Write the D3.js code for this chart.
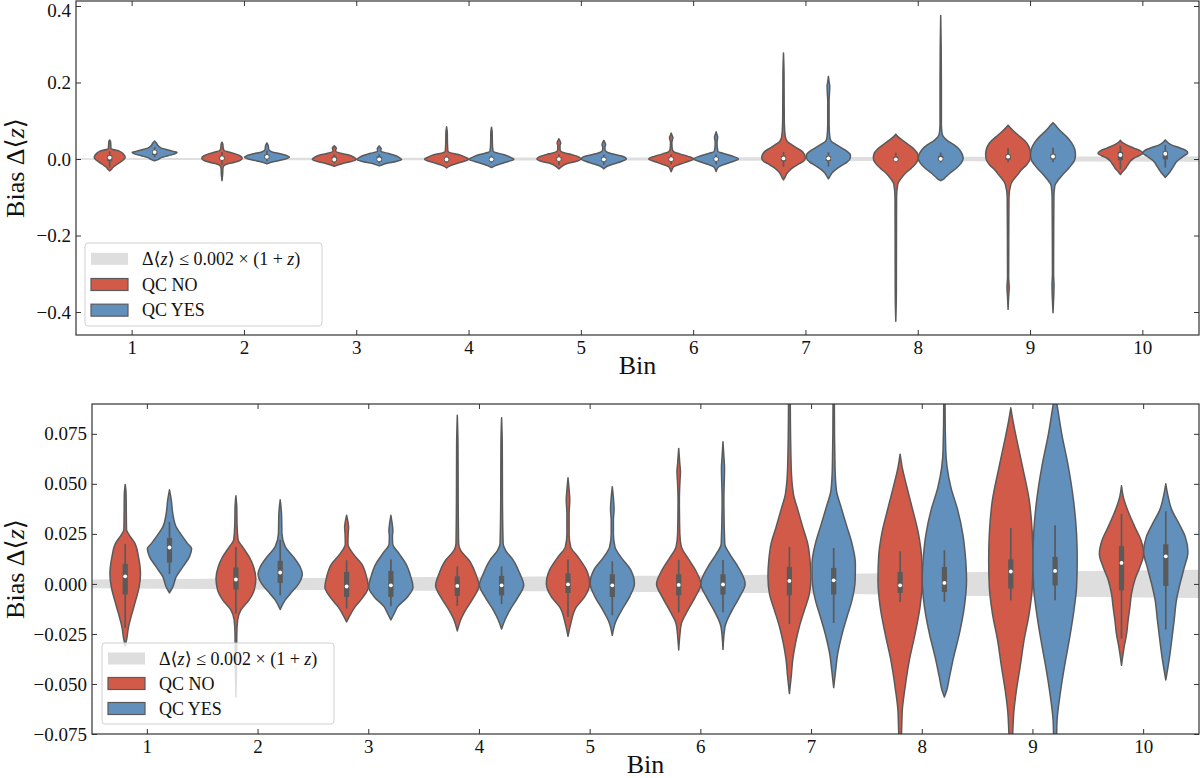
<!DOCTYPE html>
<html>
<head>
<meta charset="utf-8">
<script src="https://cdn.jsdelivr.net/npm/d3@7"></script>
<style>
  body { margin: 0; background: #fff; }
  svg { display: block; }
  text { font-family: "Liberation Serif", "DejaVu Serif", serif; fill: #111; }
  .tick text { font-size: 19px; }
</style>
</head>
<body>
<svg id="chart" width="1200" height="778"></svg>
<script>
/* Violin plots of photo-z bias per tomographic bin, with / without QC */

var binLabels = ["1", "2", "3", "4", "5", "6", "7", "8", "9", "10"];
var hueLabels = ["QC NO", "QC YES"];
var hueColors = ["#d25a48", "#6190bd"];

// half width of the requirement band, read at the bin edges (0 .. 10)
var bandHalf = [0.0022, 0.0026, 0.0030, 0.0034, 0.0037, 0.0041, 0.0045, 0.0052, 0.0060, 0.0065, 0.0071];

// inner box: quartiles, median, whiskers
var q1No      = [-0.0053, -0.0028, -0.0065, -0.0060, -0.0045, -0.0057, -0.0057, -0.0045, -0.0023, -0.0032];
var medNo     = [ 0.0038,  0.0022, -0.0013, -0.0010, -0.0002, -0.0005,  0.0015, -0.0007,  0.0062,  0.0105];
var q3No      = [ 0.0100,  0.0082,  0.0060,  0.0038,  0.0052,  0.0048,  0.0085,  0.0060,  0.0123,  0.0188];
var whiskLoNo = [-0.0220, -0.0148, -0.0123, -0.0110, -0.0165, -0.0142, -0.0200, -0.0090, -0.0082, -0.0273];
var whiskHiNo = [ 0.0200,  0.0185,  0.0118,  0.0088,  0.0122,  0.0120,  0.0185,  0.0163,  0.0280,  0.0350];

var q1Yes      = [ 0.0107,  0.0005, -0.0065, -0.0057, -0.0065, -0.0053, -0.0053, -0.0040, -0.0008, -0.0010];
var medYes     = [ 0.0182,  0.0057, -0.0007, -0.0007, -0.0007, -0.0003,  0.0018,  0.0005,  0.0065,  0.0138];
var q3Yes      = [ 0.0230,  0.0115,  0.0065,  0.0040,  0.0048,  0.0048,  0.0080,  0.0085,  0.0135,  0.0198];
var whiskLoYes = [ 0.0050, -0.0057, -0.0112, -0.0100, -0.0157, -0.0142, -0.0195, -0.0090, -0.0082, -0.0228];
var whiskHiYes = [ 0.0310,  0.0220,  0.0122,  0.0088,  0.0113,  0.0120,  0.0180,  0.0168,  0.0293,  0.0363];

// violin outlines: [bias, relative half width]
var shapeNo = [
	[[-0.031,0],[-0.028,0.06],[-0.0215,0.15],[-0.015,0.30],[-0.008,0.48],[-0.0015,0.63],[0.005,0.69],[0.0135,0.60],[0.020,0.45],[0.025,0.15],[0.027,0.06],[0.035,0.05],[0.045,0.04],[0.0497,0]],
	[[-0.0565,0],[-0.040,0.03],[-0.025,0.04],[-0.018,0.08],[-0.013,0.23],[-0.008,0.60],[-0.003,0.83],[0.0027,0.90],[0.0085,0.80],[0.0135,0.60],[0.0185,0.30],[0.022,0.10],[0.030,0.05],[0.038,0.04],[0.044,0]],
	[[-0.019,0],[-0.0157,0.15],[-0.0115,0.38],[-0.0065,0.75],[-0.0015,0.98],[0.0035,0.90],[0.010,0.68],[0.015,0.30],[0.020,0.06],[0.025,0.07],[0.0285,0.09],[0.031,0.06],[0.0343,0]],
	[[-0.0235,0],[-0.018,0.15],[-0.013,0.38],[-0.0065,0.75],[-0.0008,0.98],[0.005,0.83],[0.0118,0.53],[0.0168,0.15],[0.020,0.06],[0.040,0.04],[0.070,0.03],[0.0843,0]],
	[[-0.0262,0],[-0.020,0.12],[-0.0115,0.38],[-0.0065,0.75],[0.0002,0.98],[0.007,0.83],[0.0135,0.45],[0.0185,0.12],[0.025,0.05],[0.035,0.05],[0.042,0.08],[0.047,0.05],[0.053,0]],
	[[-0.033,0],[-0.0248,0.06],[-0.0198,0.12],[-0.013,0.42],[-0.0065,0.75],[0.0,1.0],[0.007,0.75],[0.0135,0.38],[0.0185,0.12],[0.025,0.05],[0.042,0.03],[0.052,0.06],[0.056,0.08],[0.060,0.05],[0.0677,0]],
	[[-0.0548,0],[-0.0465,0.08],[-0.038,0.15],[-0.030,0.27],[-0.0213,0.45],[-0.013,0.68],[-0.005,0.90],[0.0035,0.97],[0.012,0.93],[0.020,0.83],[0.0285,0.60],[0.037,0.38],[0.045,0.18],[0.0585,0.08],[0.090,0.04],[0.150,0.03],[0.220,0.025],[0.277,0]],
	[[-0.424,0],[-0.350,0.025],[-0.200,0.03],[-0.100,0.035],[-0.0647,0.09],[-0.0513,0.23],[-0.038,0.42],[-0.0247,0.68],[-0.0115,0.90],[0.002,1.0],[0.0135,0.97],[0.025,0.83],[0.0387,0.53],[0.0487,0.30],[0.0585,0.09],[0.0648,0]],
	[[-0.393,0],[-0.360,0.025],[-0.335,0.05],[-0.310,0.025],[-0.200,0.03],[-0.100,0.04],[-0.0665,0.12],[-0.055,0.23],[-0.0415,0.42],[-0.028,0.60],[-0.0148,0.83],[-0.0015,0.97],[0.012,1.0],[0.025,0.97],[0.042,0.83],[0.0585,0.53],[0.072,0.27],[0.082,0.09],[0.088,0]],
	[[-0.0407,0],[-0.0315,0.12],[-0.025,0.23],[-0.018,0.30],[-0.0115,0.38],[-0.005,0.45],[0.002,0.60],[0.0085,0.83],[0.015,1.0],[0.0218,0.88],[0.0285,0.60],[0.037,0.27],[0.0435,0.08],[0.049,0]]
];

var shapeYes = [
	[[-0.0045,0],[-0.0015,0.15],[0.0035,0.30],[0.0085,0.60],[0.0135,0.90],[0.0177,1.0],[0.020,0.83],[0.0235,0.60],[0.0285,0.30],[0.035,0.15],[0.042,0.08],[0.047,0]],
	[[-0.0128,0],[-0.008,0.23],[-0.005,0.45],[0.0,0.83],[0.005,1.0],[0.0085,0.90],[0.0135,0.60],[0.0185,0.23],[0.025,0.08],[0.035,0.06],[0.042,0]],
	[[-0.018,0],[-0.0148,0.15],[-0.0115,0.30],[-0.0065,0.75],[-0.0015,1.0],[0.0035,0.90],[0.010,0.68],[0.015,0.38],[0.020,0.08],[0.024,0.07],[0.0265,0.09],[0.030,0.06],[0.0343,0]],
	[[-0.0225,0],[-0.018,0.15],[-0.013,0.38],[-0.0065,0.75],[-0.0005,1.0],[0.005,0.83],[0.0118,0.53],[0.0168,0.18],[0.020,0.07],[0.040,0.04],[0.070,0.03],[0.083,0]],
	[[-0.0257,0],[-0.019,0.15],[-0.0132,0.42],[-0.0065,0.78],[0.0002,1.0],[0.007,0.83],[0.0135,0.38],[0.0185,0.12],[0.025,0.05],[0.032,0.05],[0.037,0.08],[0.043,0.05],[0.0485,0]],
	[[-0.0328,0],[-0.0215,0.09],[-0.013,0.42],[-0.0065,0.75],[0.0,1.0],[0.0085,0.68],[0.015,0.30],[0.020,0.08],[0.042,0.04],[0.058,0.07],[0.062,0.05],[0.071,0]],
	[[-0.0518,0],[-0.043,0.09],[-0.035,0.18],[-0.025,0.38],[-0.0165,0.60],[-0.008,0.83],[0.002,0.97],[0.010,0.98],[0.020,0.83],[0.0285,0.60],[0.0385,0.33],[0.047,0.12],[0.0585,0.06],[0.090,0.03],[0.150,0.03],[0.175,0.05],[0.190,0.06],[0.200,0.035],[0.216,0]],
	[[-0.0565,0],[-0.053,0.11],[-0.0465,0.23],[-0.0365,0.42],[-0.0247,0.68],[-0.0115,0.90],[0.002,1.0],[0.0135,0.95],[0.025,0.83],[0.037,0.60],[0.048,0.30],[0.0585,0.12],[0.067,0.06],[0.090,0.03],[0.200,0.03],[0.300,0.02],[0.375,0]],
	[[-0.402,0],[-0.370,0.025],[-0.330,0.045],[-0.300,0.025],[-0.200,0.03],[-0.100,0.04],[-0.075,0.07],[-0.068,0.09],[-0.055,0.23],[-0.0415,0.42],[-0.028,0.64],[-0.0148,0.83],[-0.0015,0.97],[0.012,1.0],[0.025,0.97],[0.042,0.83],[0.0585,0.60],[0.075,0.30],[0.090,0.08],[0.095,0]],
	[[-0.048,0],[-0.038,0.15],[-0.028,0.27],[-0.018,0.38],[-0.0082,0.48],[0.0,0.64],[0.008,0.83],[0.016,1.0],[0.0235,0.88],[0.030,0.60],[0.037,0.27],[0.045,0.08],[0.050,0]]
];

var yTicksTop = [-0.4, -0.2, 0.0, 0.2, 0.4];
var yTicksBottom = [-0.075, -0.050, -0.025, 0.000, 0.025, 0.050, 0.075];

var lineGray = "#5a5a5a";
var bandGray = "#dedede";

var series = [
	{name: hueLabels[0], color: hueColors[0], shape: shapeNo, q1: q1No, med: medNo, q3: q3No, lo: whiskLoNo, hi: whiskHiNo, offset: -0.2},
	{name: hueLabels[1], color: hueColors[1], shape: shapeYes, q1: q1Yes, med: medYes, q3: q3Yes, lo: whiskLoYes, hi: whiskHiYes, offset: 0.2}
];

var panels = [
	{id: "top", left: 76, right: 1199, top: 1, bottom: 335, yDomain: [-0.46, 0.413], yTicks: yTicksTop, fmt: ".1f",
		legend: {x: 85, y: 243, w: 237, h: 83}},
	{id: "bottom", left: 92, right: 1199, top: 404, bottom: 734, yDomain: [-0.075, 0.0899], yTicks: yTicksBottom, fmt: ".3f",
		legend: {x: 102, y: 643, w: 232, h: 81}}
];

var svg = d3.select("#chart");

panels.forEach(drawPanel);

function drawPanel(p) {

	var x = d3.scaleBand()
		.domain(binLabels)
		.range([p.left, p.right]);
	var bw = x.bandwidth();

	var xEdge = d3.scaleLinear()
		.domain([0, binLabels.length])
		.range([p.left, p.right]);

	var y = d3.scaleLinear()
		.domain(p.yDomain)
		.range([p.bottom, p.top]);

	var chart = svg.append("g").attr("class", "panel-" + p.id);

	svg.append("clipPath")
		.attr("id", "clip-" + p.id)
	  .append("rect")
		.attr("x", p.left)
		.attr("y", p.top)
		.attr("width", p.right - p.left)
		.attr("height", p.bottom - p.top);

	var plot = chart.append("g").attr("clip-path", "url(#clip-" + p.id + ")");

	// requirement band
	var band = d3.area()
		.x(function(d, i) { return xEdge(i); })
		.y0(function(d) { return y(-d); })
		.y1(function(d) { return y(d); });

	plot.append("path")
		.datum(bandHalf)
		.attr("fill", bandGray)
		.attr("d", band);

	// violins
	series.forEach(function(s) {
		binLabels.forEach(function(b, i) {
			var cx = x(b) + bw / 2 + s.offset * bw;
			var hw = 0.2 * bw;

			var violin = d3.area()
				.curve(d3.curveMonotoneY)
				.y(function(d) { return y(d[0]); })
				.x0(function(d) { return cx - d[1] * hw; })
				.x1(function(d) { return cx + d[1] * hw; });

			plot.append("path")
				.datum(s.shape[i])
				.attr("fill", s.color)
				.attr("stroke", lineGray)
				.attr("stroke-width", 1.5)
				.attr("stroke-linejoin", "round")
				.attr("d", violin);

			// whiskers
			plot.append("line")
				.attr("x1", cx).attr("x2", cx)
				.attr("y1", y(s.lo[i])).attr("y2", y(s.hi[i]))
				.attr("stroke", lineGray)
				.attr("stroke-width", 1.7);

			// quartile box
			plot.append("rect")
				.attr("x", cx - 2.6)
				.attr("width", 5.2)
				.attr("y", y(s.q3[i]))
				.attr("height", Math.max(1, y(s.q1[i]) - y(s.q3[i])))
				.attr("fill", lineGray);

			// median
			plot.append("circle")
				.attr("cx", cx)
				.attr("cy", y(s.med[i]))
				.attr("r", 1.9)
				.attr("fill", "#fff");
		});
	});

	// axes, ticks pointing inwards on all four sides
	var xAxis = d3.axisBottom(x).tickSizeInner(-5).tickSizeOuter(0).tickPadding(6);
	var xAxisTop = d3.axisTop(x).tickSizeInner(-5).tickSizeOuter(0).tickFormat("");
	var yAxis = d3.axisLeft(y).tickValues(p.yTicks).tickFormat(d3.format(p.fmt))
		.tickSizeInner(-5).tickSizeOuter(0).tickPadding(5);
	var yAxisRight = d3.axisRight(y).tickValues(p.yTicks).tickFormat("")
		.tickSizeInner(-5).tickSizeOuter(0);

	var axes = [
		chart.append("g").attr("transform", "translate(0," + p.bottom + ")").call(xAxis),
		chart.append("g").attr("transform", "translate(0," + p.top + ")").call(xAxisTop),
		chart.append("g").attr("transform", "translate(" + p.left + ",0)").call(yAxis),
		chart.append("g").attr("transform", "translate(" + p.right + ",0)").call(yAxisRight)
	];
	axes.forEach(function(a) {
		a.select(".domain").remove();
		a.selectAll(".tick line").attr("stroke", "#333").attr("stroke-width", 1);
		a.selectAll(".tick text").attr("fill", "#111").style("font-family", "Liberation Serif, DejaVu Serif, serif");
	});

	// keep a tick label that sits right at the figure's top edge inside the picture
	axes[2].selectAll(".tick text")
		.attr("y", function(d) { return y(d) < 10 ? 10 - y(d) : 0; });

	// frame
	chart.append("rect")
		.attr("x", p.left)
		.attr("y", p.top)
		.attr("width", p.right - p.left)
		.attr("height", p.bottom - p.top)
		.attr("fill", "none")
		.attr("stroke", "#333")
		.attr("stroke-width", 1.2);

	// x axis title
	chart.append("text")
		.attr("x", (p.left + p.right) / 2)
		.attr("y", p.bottom + 39)
		.attr("text-anchor", "middle")
		.style("font-size", "26px")
		.text("Bin");

	// y axis title
	var yt = chart.append("text")
		.attr("transform", "translate(24," + ((p.top + p.bottom) / 2) + ") rotate(-90)")
		.attr("text-anchor", "middle")
		.style("font-size", "26px");
	yt.append("tspan").text("Bias \u0394\u27E8");
	yt.append("tspan").style("font-style", "italic").text("z");
	yt.append("tspan").text("\u27E9");

	drawLegend(chart, p.legend);
}

function drawLegend(chart, L) {
	var lg = chart.append("g").attr("transform", "translate(" + L.x + "," + L.y + ")");

	lg.append("rect")
		.attr("width", L.w)
		.attr("height", L.h)
		.attr("rx", 3)
		.attr("fill", "#fff")
		.attr("fill-opacity", 0.8)
		.attr("stroke", "#d0d0d0")
		.attr("stroke-width", 1);

	var rowH = (L.h - 6) / 3;
	var rows = [{fill: bandGray, stroke: "none"}].concat(series.map(function(s) {
		return {fill: s.color, stroke: lineGray, name: s.name};
	}));

	rows.forEach(function(r, i) {
		var cy = 3 + rowH * (i + 0.5);
		lg.append("rect")
			.attr("x", 6)
			.attr("y", cy - 6)
			.attr("width", 37)
			.attr("height", 12)
			.attr("fill", r.fill)
			.attr("stroke", r.stroke)
			.attr("stroke-width", 1.2);

		var t = lg.append("text")
			.attr("x", 57)
			.attr("y", cy + 6)
			.style("font-size", "18px");
		if (i === 0) {
			t.append("tspan").text("\u0394\u27E8");
			t.append("tspan").style("font-style", "italic").text("z");
			t.append("tspan").text("\u27E9 \u2264 0.002 \u00D7 (1 + ");
			t.append("tspan").style("font-style", "italic").text("z");
			t.append("tspan").text(")");
		} else {
			t.text(r.name);
		}
	});
}
</script>
</body>
</html>
